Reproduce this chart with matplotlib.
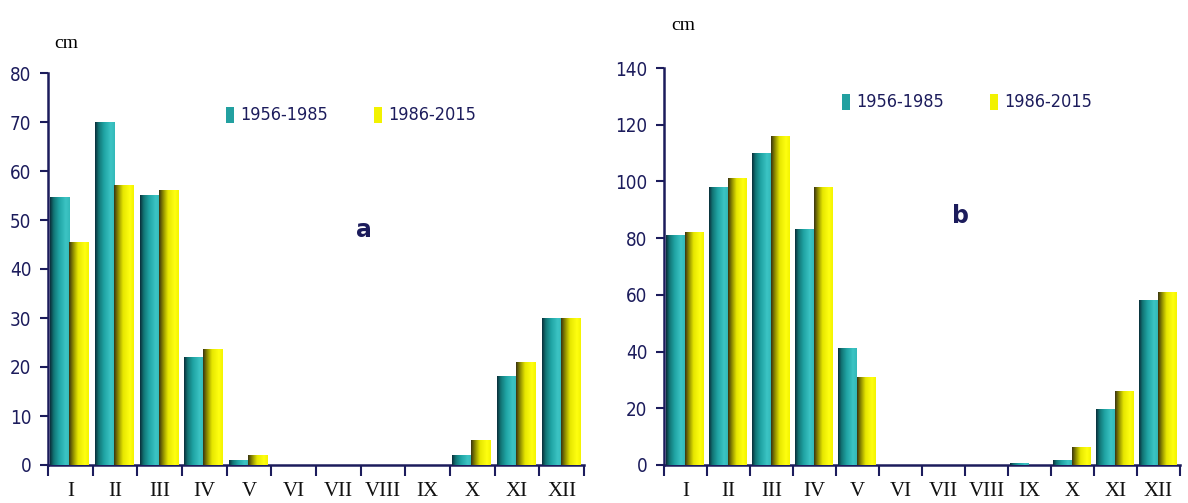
import numpy as np
import matplotlib
matplotlib.use("Agg")
import matplotlib.pyplot as plt
from matplotlib.colors import LinearSegmentedColormap
from matplotlib.patches import Rectangle

months = ["I", "II", "III", "IV", "V", "VI", "VII", "VIII", "IX", "X", "XI", "XII"]
series_names = ["1956-1985", "1986-2015"]

a_1956_1985 = [54.5, 70, 55, 22, 1, 0, 0, 0, 0, 2, 18, 30]
a_1986_2015 = [45.5, 57, 56, 23.5, 2, 0, 0, 0, 0, 5, 21, 30]

b_1956_1985 = [81, 98, 110, 83, 41, 0, 0, 0, 0.5, 1.5, 19.5, 58]
b_1986_2015 = [82, 101, 116, 98, 31, 0, 0, 0, 0, 6, 26, 61]

NAVY = "#1c1c5c"
TEAL = "#22a0a0"
YELLOW = "#f2f200"

teal_cmap = LinearSegmentedColormap.from_list(
    "teal", [(0, "#0a2e3a"), (0.18, "#127474"), (0.45, "#1fa3a3"), (0.8, "#3cc4c4"), (1, "#33b8b8")])
yellow_cmap = LinearSegmentedColormap.from_list(
    "yel", [(0, "#3a3410"), (0.2, "#8c8a00"), (0.45, "#e6e600"), (0.8, "#ffff10"), (1, "#f4f400")])

fig = plt.figure(figsize=(11.88, 5.03), dpi=100)
W, H = 1188, 503


def make_axes(x0, x1, y_top, y_bot):
    return fig.add_axes([x0 / W, (H - y_bot) / H, (x1 - x0) / W, (y_bot - y_top) / H])


def draw(ax, s1, s2, ymax, ystep, letter, letter_xy, leg_xy, cm_xy):
    x = np.arange(len(months))
    w = 0.43
    b1 = ax.bar(x - 0.235, s1, width=w, color=TEAL, zorder=2)
    b2 = ax.bar(x + 0.195, s2, width=w, color=YELLOW, zorder=2)
    grad = np.linspace(0, 1, 64).reshape(1, -1)
    for bars, cmap in ((b1, teal_cmap), (b2, yellow_cmap)):
        for r in bars:
            h = r.get_height()
            if h <= 0:
                continue
            bx = r.get_x()
            ax.imshow(grad, extent=[bx, bx + r.get_width(), 0, h], aspect="auto",
                      cmap=cmap, zorder=3, interpolation="bilinear")
    ax.set_xlim(-0.5, len(months) - 0.5)
    ax.set_ylim(0, ymax)
    ax.set_xticks(x)
    ax.set_xticklabels(months, family="Liberation Serif", fontsize=15, color="#111111")
    ax.tick_params(axis="x", which="major", length=0, pad=12)
    ax.set_xticks(np.arange(-0.5, len(months) + 0.5, 1), minor=True)
    ax.tick_params(axis="x", which="minor", length=8, width=1.5, color=NAVY, direction="out")
    ax.set_yticks(np.arange(0, ymax + 1, ystep))
    ax.tick_params(axis="y", length=6, width=1.5, color=NAVY, labelsize=13.5, labelcolor=NAVY, pad=6)
    for lab in ax.get_yticklabels():
        lab.set_family("DejaVu Sans")
        lab.set_stretch("condensed")
    for s in ("top", "right"):
        ax.spines[s].set_visible(False)
    for s in ("left", "bottom"):
        ax.spines[s].set_color(NAVY)
        ax.spines[s].set_linewidth(1.8)
    ax.text(*letter_xy, letter, transform=fig.transFigure, fontsize=17, fontweight="bold",
            color=NAVY, ha="center", va="center")
    # legend
    lx, ly = leg_xy
    for i, (name, col) in enumerate(zip(series_names, (TEAL, YELLOW))):
        px = lx + i * 148
        fig.patches.append(Rectangle(((px) / W, (H - ly - 8) / H), 8 / W, 16 / H,
                                     transform=fig.transFigure, facecolor=col,
                                     edgecolor="none"))
        fig.text((px + 14) / W, (H - ly) / H, name, fontsize=13, color=NAVY,
                 ha="left", va="center", family="DejaVu Sans", stretch="condensed")
    fig.text(cm_xy[0] / W, (H - cm_xy[1]) / H, "cm", fontsize=14, family="Liberation Serif",
             color="black", ha="center", va="center")


axa = make_axes(48, 584, 73, 465)
draw(axa, a_1956_1985, a_1986_2015, 80, 10, "a", (364 / W, (H - 230) / H), (226, 115), (66, 43))

axb = make_axes(664, 1180, 68, 465)
draw(axb, b_1956_1985, b_1986_2015, 140, 20, "b", (960 / W, (H - 216) / H), (842, 102), (683, 26))

fig.savefig("out.png", dpi=100)
